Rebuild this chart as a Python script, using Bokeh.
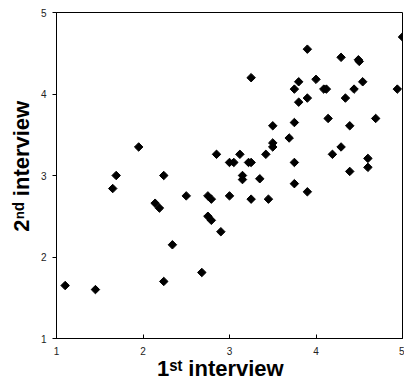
import math
from bokeh.plotting import figure
from bokeh.models import Range1d, FixedTicker
from bokeh.embed import file_html
from bokeh.resources import INLINE

# 1st interview scores (x) and 2nd interview scores (y)
first_interview = [1.10, 1.45, 1.65, 1.69, 1.95, 2.14, 2.19, 2.24, 2.24, 2.34,
                   2.50, 2.68, 2.75, 2.79, 2.75, 2.79, 2.85, 2.90, 3.00, 3.05,
                   3.00, 3.12, 3.15, 3.15, 3.22, 3.25, 3.25, 3.25, 3.35, 3.42,
                   3.45, 3.50, 3.50, 3.50, 3.69, 3.75, 3.80, 3.80, 3.75, 3.75,
                   3.75, 3.90, 3.90, 3.90, 4.00, 4.09, 4.12, 4.14, 4.19, 4.29,
                   4.29, 4.34, 4.39, 4.39, 4.44, 4.49, 4.50, 4.54, 4.60, 4.60,
                   4.69, 4.94, 5.00]
second_interview = [1.65, 1.60, 2.84, 3.00, 3.35, 2.66, 2.60, 3.00, 1.70, 2.15,
                    2.75, 1.81, 2.75, 2.71, 2.50, 2.45, 3.26, 2.31, 3.16, 3.16,
                    2.75, 3.26, 3.00, 2.95, 3.16, 3.16, 4.20, 2.71, 2.96, 3.26,
                    2.71, 3.61, 3.40, 3.35, 3.46, 4.06, 4.15, 3.90, 3.65, 3.16,
                    2.90, 4.55, 3.95, 2.80, 4.18, 4.06, 4.06, 3.70, 3.26, 4.45,
                    3.35, 3.95, 3.61, 3.05, 4.06, 4.42, 4.40, 4.15, 3.21, 3.10,
                    3.70, 4.06, 4.70]
tick_values = [1, 2, 3, 4, 5]
NBSP = "\u00a0"
x_title = "1\u02e2\u1d57 interview" + NBSP * 3
y_title = NBSP * 3 + "2\u207f\u1d48 interview"

FONT = "Liberation Sans"

p = figure(width=404, height=384, output_backend="svg", toolbar_location=None,
           x_range=Range1d(1, 5), y_range=Range1d(1, 5),
           min_border_left=56, min_border_right=2, min_border_top=12, min_border_bottom=46)
p.background_fill_color = "white"
p.border_fill_color = "white"
p.outline_line_color = "black"
p.outline_line_width = 1
p.grid.visible = False

for ax in (p.xaxis[0], p.yaxis[0]):
    ax.ticker = FixedTicker(ticks=tick_values)
    ax.minor_tick_line_color = None
    ax.axis_line_color = "black"
    ax.major_tick_line_color = "black"
    ax.major_label_text_font = FONT
    ax.major_label_text_font_size = "10px"
    ax.major_label_text_color = "#222222"
    ax.axis_label_text_font = FONT
    ax.axis_label_text_font_size = "22px"
    ax.axis_label_text_font_style = "bold"
    ax.axis_label_text_color = "black"

p.xaxis.axis_label = x_title
p.yaxis.axis_label = y_title
p.xaxis.major_tick_in = 4
p.xaxis.major_tick_out = 0
p.xaxis.major_label_standoff = 8
p.xaxis.axis_label_standoff = -2
p.yaxis.major_tick_in = 0
p.yaxis.major_tick_out = 4
p.yaxis.major_label_standoff = 6
p.yaxis.axis_label_standoff = 4

p.scatter(first_interview, second_interview, marker="square", size=6,
          angle=math.pi / 4, fill_color="black", line_color="black")

open("out.html", "w").write(file_html(p, INLINE))
